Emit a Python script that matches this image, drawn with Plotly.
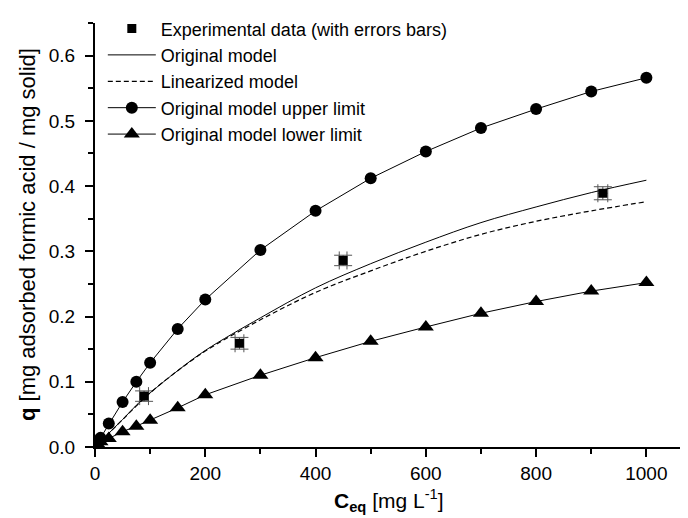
import plotly.graph_objects as go

# Experimental data
exp_x = [89, 262, 450, 921]
exp_q = [0.078, 0.159, 0.286, 0.389]
exp_xerr = [8, 8, 7, 9]
exp_qerr = [0.008, 0.009, 0.008, 0.010]

# Original model (solid) and linearized model (dashed)
model_x = [0, 25, 50, 75, 100, 150, 200, 300, 400, 500, 600, 700, 800, 900, 1000]
orig_q = [0.0, 0.021, 0.042, 0.064, 0.083, 0.117, 0.148, 0.198, 0.244, 0.281, 0.314, 0.344, 0.368, 0.390, 0.409]
lin_q = [0.0, 0.021, 0.042, 0.063, 0.083, 0.117, 0.147, 0.195, 0.237, 0.270, 0.300, 0.326, 0.346, 0.362, 0.376]

# Upper / lower limits
lim_x = [5, 10, 25, 50, 75, 100, 150, 200, 300, 400, 500, 600, 700, 800, 900, 1000]
upper_q = [0.007, 0.014, 0.036, 0.069, 0.100, 0.129, 0.181, 0.226, 0.302, 0.362, 0.412, 0.453, 0.489, 0.518, 0.545, 0.566]
lower_q = [0.004, 0.008, 0.013, 0.0235, 0.032, 0.041, 0.060, 0.080, 0.110, 0.137, 0.162, 0.184, 0.205, 0.223, 0.239, 0.252]

FONT = "Liberation Sans, Arial, sans-serif"

fig = go.Figure()
fig.add_trace(go.Scatter(
    x=exp_x, y=exp_q, mode="markers", name="Experimental data (with errors bars)",
    marker=dict(symbol="square", size=9, color="black"),
    error_x=dict(type="data", array=exp_xerr, color="#555555", thickness=1, width=9),
    error_y=dict(type="data", array=exp_qerr, color="#555555", thickness=1, width=9),
))
fig.add_trace(go.Scatter(
    x=model_x, y=orig_q, mode="lines", name="Original model",
    line=dict(color="black", width=1, shape="spline"),
))
fig.add_trace(go.Scatter(
    x=model_x, y=lin_q, mode="lines", name="Linearized model",
    line=dict(color="black", width=1.2, dash="5px,3px", shape="spline"),
))
fig.add_trace(go.Scatter(
    x=lim_x, y=upper_q, mode="lines+markers", name="Original model upper limit",
    line=dict(color="black", width=1),
    marker=dict(symbol="circle", size=12, color="black"),
))
fig.add_trace(go.Scatter(
    x=lim_x, y=lower_q, mode="lines+markers", name="Original model lower limit",
    line=dict(color="black", width=1),
    marker=dict(symbol="triangle-up", size=14, color="black"),
))

axis_common = dict(
    showgrid=False, zeroline=False, showline=True, linecolor="black", linewidth=2,
    ticks="outside", ticklen=8, tickwidth=1.5, tickcolor="black",
    tickfont=dict(family=FONT, size=19, color="black"),
)

fig.update_layout(
    width=688, height=518,
    margin=dict(l=87, r=0, t=15, b=79),
    paper_bgcolor="white", plot_bgcolor="white",
    font=dict(family=FONT, size=18, color="black"),
    showlegend=True,
    legend=dict(
        x=0.013, y=1.03, xanchor="left", yanchor="top",
        bgcolor="rgba(0,0,0,0)", font=dict(family=FONT, size=18, color="black"),
        itemwidth=48, tracegroupgap=0,
    ),
    xaxis=dict(
        range=[0, 1090], tickvals=[0, 200, 400, 600, 800, 1000],
        minor=dict(ticks="outside", ticklen=5, tickwidth=1.5, tickcolor="black", dtick=100, tick0=0),
        **axis_common,
    ),
    yaxis=dict(
        range=[0, 0.65], tickvals=[0.0, 0.1, 0.2, 0.3, 0.4, 0.5, 0.6], tickformat=".1f",
        minor=dict(ticks="outside", ticklen=5, tickwidth=1.5, tickcolor="black", dtick=0.05, tick0=0),
        ticklabelstandoff=6,
        **axis_common,
    ),
    annotations=[
        dict(
            text="<b>C</b><sub><b>eq</b></sub> [mg L<sup>-1</sup>]",
            xref="paper", yref="paper", x=0.49, y=0, yshift=-53, yanchor="middle",
            showarrow=False, font=dict(family=FONT, size=21, color="black"),
        ),
        dict(
            text="<b>q</b> [mg adsorbed formic acid / mg solid]",
            xref="paper", yref="paper", x=0, xshift=-68, y=0.5, textangle=-90,
            xanchor="center", yanchor="middle",
            showarrow=False, font=dict(family=FONT, size=22, color="black"),
        ),
    ],
)

fig.write_html("out.html")
